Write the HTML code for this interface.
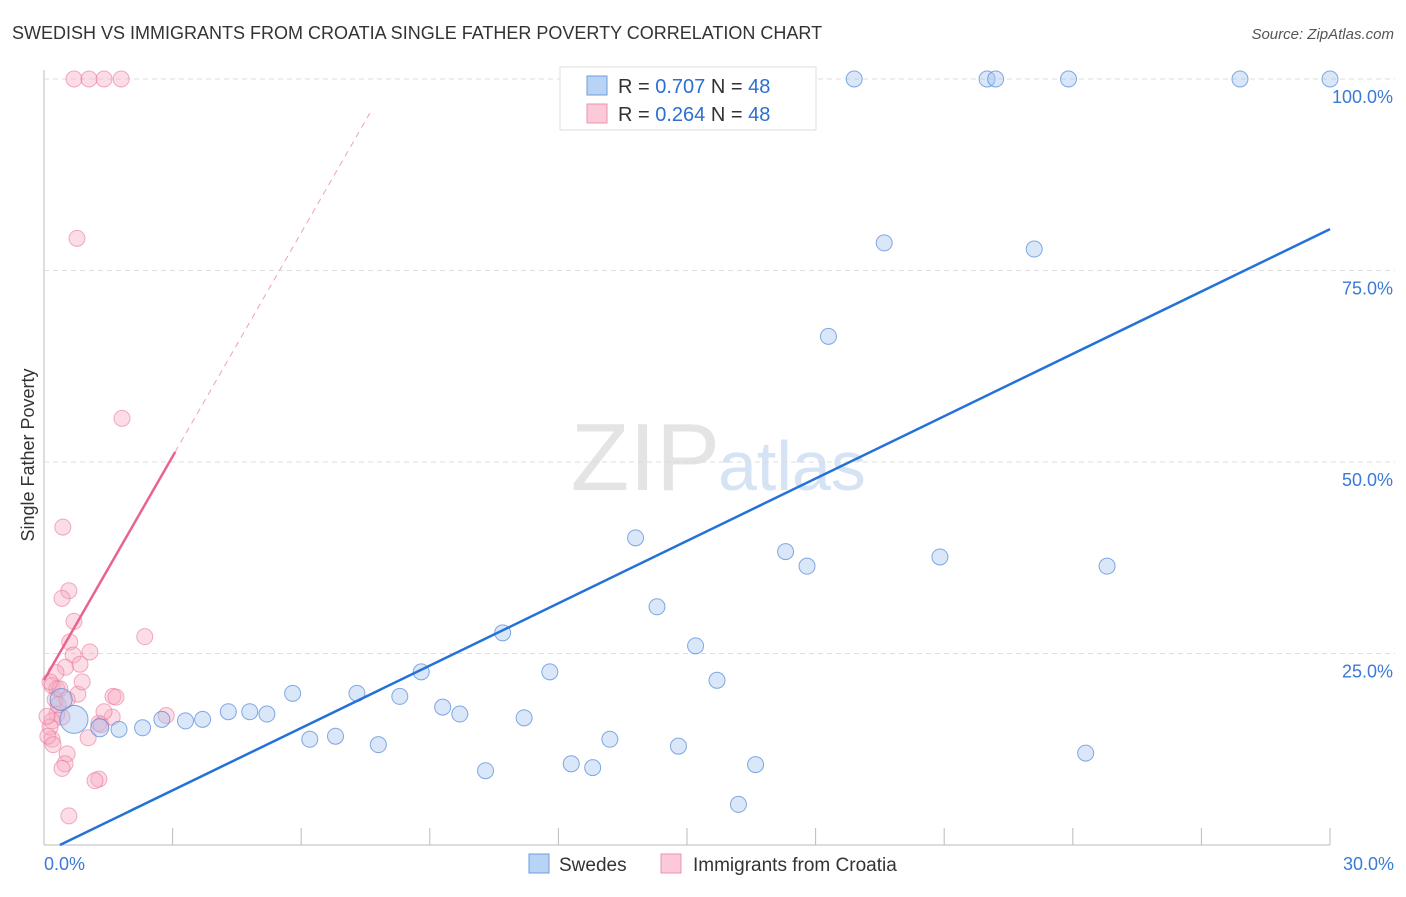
<!DOCTYPE html>
<html><head><meta charset="utf-8"><style>
body{margin:0;background:#fff;font-family:"Liberation Sans",sans-serif}
svg text{font-family:"Liberation Sans",sans-serif}
</style></head><body>
<svg id="c" width="1406" height="892">
<text x="12" y="39" font-size="18" fill="#333">SWEDISH VS IMMIGRANTS FROM CROATIA SINGLE FATHER POVERTY CORRELATION CHART</text>
<text x="1394" y="39" font-size="15" fill="#555" font-style="italic" text-anchor="end">Source: ZipAtlas.com</text>
<text x="720" y="490" font-size="96" fill="#e4e4e4" text-anchor="end" font-family="Liberation Serif">ZIP</text>
<text x="718" y="490" font-size="70" fill="#d5e3f5">atlas</text>
<text transform="translate(34,455) rotate(-90)" font-size="18" fill="#333" text-anchor="middle">Single Father Poverty</text>
<g id="grid"></g><g id="pts"></g><g id="lines"></g>
<g>
<rect x="560" y="67" width="256" height="63" fill="#fff" stroke="#ddd"/>
<rect x="587" y="76" width="20" height="19" fill="#b9d3f5" stroke="#6c9ee0"/>
<rect x="587" y="104" width="20" height="19" fill="#fbc9d7" stroke="#ee93ad"/>
<text x="618" y="93" font-size="20" fill="#333">R = <tspan fill="#2c6fd1">0.707</tspan>   N = <tspan fill="#2c6fd1">48</tspan></text>
<text x="618" y="121" font-size="20" fill="#333">R = <tspan fill="#2c6fd1">0.264</tspan>   N = <tspan fill="#2c6fd1">48</tspan></text>
</g>
<g>
<rect x="529" y="854" width="20" height="19" fill="#b9d3f5" stroke="#6c9ee0"/>
<text x="559" y="871" font-size="19" fill="#333">Swedes</text>
<rect x="661" y="854" width="20" height="19" fill="#fbc9d7" stroke="#ee93ad"/>
<text x="693" y="871" font-size="19" fill="#333">Immigrants from Croatia</text>
</g>
</svg>
<script>
const xTicks=[0,3,6,9,12,15,18,21,24,27,30];
const yTicks=[25,50,75,100];
const yTickLabels=["25.0%","50.0%","75.0%","100.0%"];
const swedesX=[18.9,22,22.2,23.9,27.9,30,19.6,23.1,18.3,13.8,17.3,17.8,20.9,24.8,14.3,10.7,15.2,11.8,8.8,15.7,5.8,7.3,8.3,4.3,4.8,5.2,9.3,9.7,11.2,2.75,3.3,3.7,1.3,1.75,2.3,0.7,6.2,6.8,7.8,13.2,14.8,24.3,10.3,12.3,12.8,16.6,16.2,0.4];
const swedesY=[100,100,100,100,100,100,78.6,77.8,66.4,40.1,38.3,36.4,37.6,36.4,31.1,27.7,26,22.6,22.6,21.5,19.8,19.8,19.4,17.4,17.4,17.1,18,17.1,16.6,16.4,16.2,16.4,15.3,15.1,15.3,16.4,13.8,14.2,13.1,13.8,12.9,12,9.7,10.6,10.1,10.5,5.3,19];
const swedesR=[8,8,8,8,8,8,8,8,8,8,8,8,8,8,8,8,8,8,8,8,8,8,8,8,8,8,8,8,8,8,8,8,9,8,8,14,8,8,8,8,8,8,8,8,8,8,8,11];
const croX=[0.7,1.05,1.4,1.8,0.77,1.82,0.44,0.58,0.42,0.7,2.35,0.6,1.07,0.68,0.84,0.5,0.28,0.19,0.3,0.79,1.61,1.68,0.26,0.3,0.42,1.28,1.33,2.85,1.59,0.19,1.03,0.19,0.14,0.54,0.49,0.42,1.28,1.19,0.58,0.33,0.09,0.07,0.37,0.54,0.21,0.14,1.4,0.89];
const croY=[100,100,100,100,79.2,55.7,41.5,33.2,32.2,29.2,27.2,26.5,25.2,24.8,23.6,23.2,22.5,20.8,20.4,19.7,19.4,19.3,19,17.1,16.7,15.9,15.7,16.9,16.7,16.2,14,13.8,15.4,11.9,10.6,10,8.6,8.4,3.8,18.3,14.2,16.8,20.4,19,13.1,21.3,17.4,21.3];
const blueTrend=[[0.37,0],[30,80.4]];
const pinkTrend={intercept:21.5,slope:9.74,solidEnd:3.06,dashEnd:7.6};
const NS="http://www.w3.org/2000/svg";
const X=v=>44+v*(1330-44)/30, Y=v=>845-v*(845-79)/100;
function mk(tag,attrs,parent){const e=document.createElementNS(NS,tag);for(const k in attrs)e.setAttribute(k,attrs[k]);document.getElementById(parent).appendChild(e);return e;}
let e;
e=mk('line',{x1:44,y1:70,x2:44,y2:845,stroke:'#bbb'},'grid');


e=mk('line',{x1:44,y1:845,x2:1330,y2:845,stroke:'#bbb'},'grid');


yTicks.forEach((t,i)=>{
 e=mk('line',{x1:44,y1:Y(t),x2:1395,y2:Y(t),stroke:'#ddd','stroke-dasharray':'5,4'},'grid');
 
 
 e=mk('text',{x:1393,y:Y(t)+24,'font-size':18,fill:'#3b7ad6','text-anchor':'end'},'grid');
 e.textContent=yTickLabels[i];
 
 
});
xTicks.forEach(t=>{
 e=mk('line',{x1:X(t),y1:828,x2:X(t),y2:845,stroke:'#bbb'},'grid');
 
 
});
e=mk('text',{x:44,y:870,'font-size':18,fill:'#3b7ad6'},'grid');e.textContent=xTicks[0].toFixed(1)+'%';


e=mk('text',{x:1394,y:870,'font-size':18,fill:'#3b7ad6','text-anchor':'end'},'grid');e.textContent=xTicks[xTicks.length-1].toFixed(1)+'%';


croX.forEach((x,i)=>{
 e=mk('circle',{cx:X(x),cy:Y(croY[i]),r:8,fill:'rgba(248,170,192,0.4)',stroke:'rgba(232,120,155,0.6)','stroke-width':1},'pts');
 
 
});
swedesX.forEach((x,i)=>{
 e=mk('circle',{cx:X(x),cy:Y(swedesY[i]),r:swedesR[i],fill:'rgba(160,195,240,0.4)',stroke:'rgba(80,135,215,0.7)','stroke-width':1},'pts');
 
 
});
e=mk('line',{x1:X(blueTrend[0][0]),y1:Y(blueTrend[0][1]),x2:X(blueTrend[1][0]),y2:Y(blueTrend[1][1]),stroke:'#2472d8','stroke-width':2.5},'lines');


const py=x=>pinkTrend.intercept+pinkTrend.slope*x;
e=mk('line',{x1:X(0),y1:Y(py(0)),x2:X(pinkTrend.solidEnd),y2:Y(py(pinkTrend.solidEnd)),stroke:'#e8648f','stroke-width':2.5},'lines');


e=mk('line',{x1:X(pinkTrend.solidEnd),y1:Y(py(pinkTrend.solidEnd)),x2:X(pinkTrend.dashEnd),y2:Y(py(pinkTrend.dashEnd)),stroke:'#eea0b8','stroke-width':1,'stroke-dasharray':'6,5'},'lines');


</script>
</body></html>
